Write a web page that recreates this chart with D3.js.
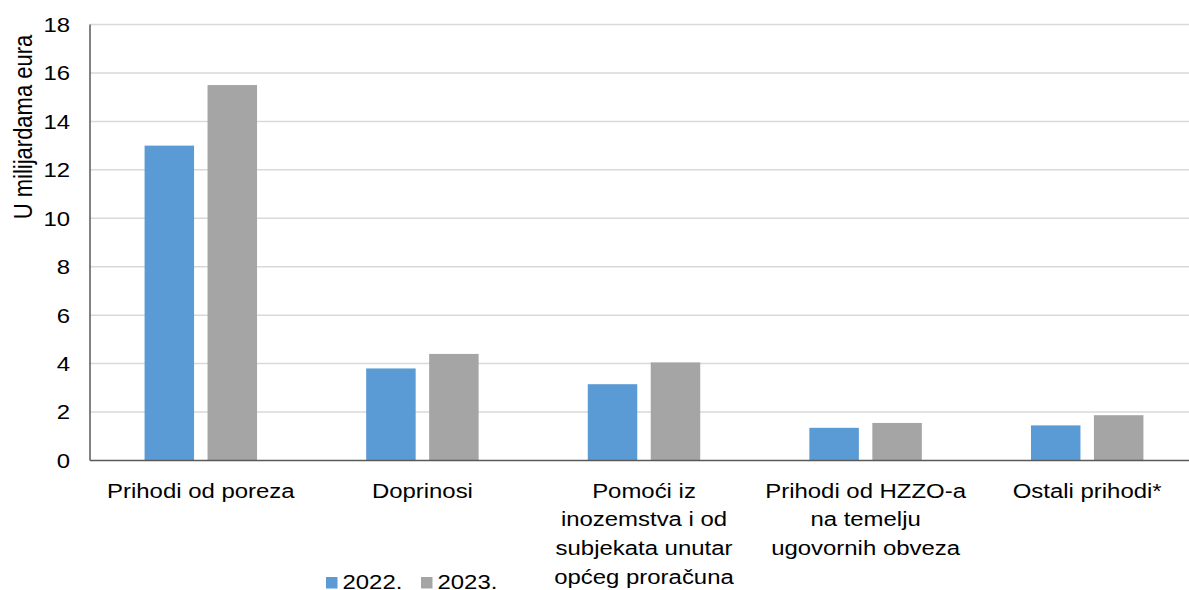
<!DOCTYPE html>
<html>
<head>
<meta charset="utf-8">
<script src="https://cdn.jsdelivr.net/npm/d3@7"></script>
<style>
  html, body { margin: 0; padding: 0; background: #fff; }
  svg { display: block; font-family: "Liberation Sans", Arial, sans-serif; }
</style>
</head>
<body>
<svg id="chart" width="1189" height="590"></svg>
<script>
const categories = [
  ["Prihodi od poreza"],
  ["Doprinosi"],
  ["Pomoći iz", "inozemstva i od", "subjekata unutar", "općeg proračuna"],
  ["Prihodi od HZZO-a", "na temelju", "ugovornih obveza"],
  ["Ostali prihodi*"]
];
const seriesNames = ["2022.", "2023."];
const values2022 = [13.0, 3.8, 3.15, 1.35, 1.45];
const values2023 = [15.5, 4.4, 4.05, 1.55, 1.87];
const yTicks = [0, 2, 4, 6, 8, 10, 12, 14, 16, 18];
const yTitle = "U milijardama eura";
const colors = ["#5B9BD5", "#A5A5A5"];

(function () {
const svg = d3.select("#chart");
const plotLeft = 90, plotRight = 1198, plotTop = 24.5, plotBottom = 460.5;
const FS = 21, SX = 1.14;

const catKeys = categories.map((c, i) => i);
const x0 = d3.scaleBand().domain(catKeys).range([plotLeft, plotRight])
  .paddingInner(0.4925).paddingOuter(0.4925 / 2);
const x1 = d3.scaleBand().domain(seriesNames).range([0, x0.bandwidth()])
  .paddingInner(0.214).paddingOuter(0);
const y = d3.scaleLinear().domain([0, 18]).range([plotBottom, plotTop]);

// gridlines
svg.append("g").selectAll("line").data(yTicks.filter(d => d > 0)).join("line")
  .attr("x1", plotLeft).attr("x2", 1189)
  .attr("y1", d => y(d)).attr("y2", d => y(d))
  .attr("stroke", "#d9d9d9").attr("stroke-width", 1.5);

// bars
const data = catKeys.map(i => ({ i, vals: [values2022[i], values2023[i]] }));
const groups = svg.append("g").selectAll("g").data(data).join("g")
  .attr("transform", d => `translate(${x0(d.i)},0)`);
groups.selectAll("rect").data(d => d.vals.map((v, k) => ({ k, v }))).join("rect")
  .attr("x", d => x1(seriesNames[d.k]))
  .attr("width", x1.bandwidth())
  .attr("y", d => y(d.v))
  .attr("height", d => y(0) - y(d.v))
  .attr("fill", d => colors[d.k]);

// axes lines
svg.append("line").attr("x1", plotLeft).attr("x2", plotLeft).attr("y1", plotTop).attr("y2", plotBottom)
  .attr("stroke", "#595959").attr("stroke-width", 1.5);
svg.append("line").attr("x1", plotLeft).attr("x2", 1189).attr("y1", plotBottom).attr("y2", plotBottom)
  .attr("stroke", "#595959").attr("stroke-width", 1.5);

// y tick labels
svg.append("g").selectAll("text").data(yTicks).join("text")
  .attr("transform", d => `translate(70,${y(d)}) scale(${SX},1)`)
  .attr("dy", "0.35em")
  .attr("text-anchor", "end").attr("font-size", FS).attr("fill", "#000")
  .text(d => d);

// y title
svg.append("text")
  .attr("transform", `translate(32,127) scale(${SX},1) rotate(-90)`)
  .attr("text-anchor", "middle").attr("font-size", 22).attr("fill", "#000")
  .text(yTitle);

// category labels
const catG = svg.append("g").selectAll("text").data(data).join("text")
  .attr("text-anchor", "middle").attr("font-size", FS).attr("fill", "#000")
  .attr("transform", d => `translate(${x0(d.i) + x0.bandwidth() / 2},497.5) scale(${SX},1)`);
catG.selectAll("tspan").data(d => categories[d.i].map((t, j) => ({ t, j })))
  .join("tspan")
  .attr("x", 0)
  .attr("y", d => d.j * 28.8)
  .text(d => d.t);

// legend
const legendX = [326, 421];
const leg = svg.append("g").selectAll("g").data(seriesNames).join("g")
  .attr("transform", (d, i) => `translate(${legendX[i]},0)`);
leg.append("rect").attr("x", 0).attr("y", 577).attr("width", 11.5).attr("height", 11.5)
  .attr("fill", (d, i) => colors[i]);
leg.append("text")
  .attr("transform", `translate(16.5,588.5) scale(${SX},1)`)
  .attr("font-size", FS).attr("fill", "#000")
  .text(d => d);
})();
</script>
</body>
</html>
